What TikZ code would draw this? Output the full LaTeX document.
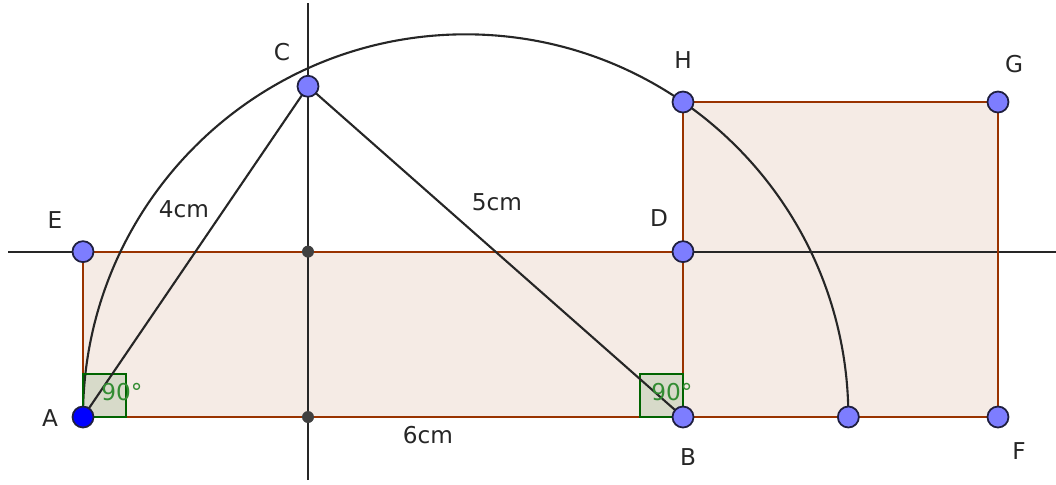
\documentclass[tikz,border=0pt]{standalone}
\usepackage{fontspec}
\setsansfont{DejaVu Sans}
\usetikzlibrary{positioning}
\definecolor{ggbrown}{RGB}{153,51,0}
\definecolor{ggpoint}{RGB}{125,125,255}
\definecolor{ggangle}{RGB}{0,100,0}
\definecolor{ggangletext}{RGB}{50,140,50}

\begin{document}
\begin{tikzpicture}[every node/.style={font=\sffamily\fontsize{6.6}{8}\selectfont,text=black!85},
 poly/.style={fill=ggbrown!10},
 polyedge/.style={draw=ggbrown,line width=0.6pt},
 gline/.style={draw=black!85,line width=0.6pt},
 rightmark/.style={draw=ggangle,line width=0.5pt,fill=ggangle,fill opacity=0.12},
 anglelabel/.style={text=ggangletext},
 freept/.style={circle,draw=ggpoint!25!black,line width=0.5pt,fill=ggpoint,inner sep=0pt,minimum size=2.1mm},
 basept/.style={freept,fill=blue},
 auxpt/.style={circle,fill=black!75,inner sep=0pt,minimum size=1.2mm}]
\useasboundingbox (-0.83,-0.67) rectangle (9.73,4.17);
\pgfmathsetmacro\hC{sqrt(16-2.25*2.25)}
\pgfmathsetmacro\hR{\hC/2}
\pgfmathsetmacro\sQ{sqrt(6*\hR)}
\pgfmathsetmacro\rK{(6+\hR)/2}
\coordinate (A) at (0,0);
\coordinate (B) at (6,0);
\coordinate (C) at (2.25,\hC);
\coordinate (D) at (6,\hR);
\coordinate (E) at (0,\hR);
\coordinate (F) at (6+\sQ,0);
\coordinate (G) at (6+\sQ,\sQ);
\coordinate (H) at (6,\sQ);
\coordinate (P) at (6+\hR,0);
% filled polygons
\fill[poly] (A) rectangle (D);
\fill[poly] (B) rectangle (G);
% auxiliary lines
\coordinate (vtop) at (2.25,4.14);
\coordinate (vbot) at (2.25,-0.63);
\coordinate (hl) at (-0.75,\hR);
\coordinate (hr) at (9.73,\hR);
\draw[gline] (vbot)--(vtop);
\draw[gline] (hl)--(hr);
\draw[polyedge] (A)--(B)--(D)--(E)--cycle;
\draw[polyedge] (B)--(F)--(G)--(H)--cycle;
\draw[gline] (A) arc[start angle=180,end angle=0,radius=\rK];
% right angles
\draw[rightmark] (A) rectangle ++(0.43,0.43);
\draw[rightmark] (B) rectangle ++(-0.43,0.43);
\draw[gline] (A)--(C)--(B);
\node[anglelabel] (aA) at (0.39,0.25) {90°};
\node[anglelabel] (aB) at (5.89,0.25) {90°};
% points
\node[auxpt] (M1) at (2.25,\hR) {};
\node[auxpt] (M2) at (2.25,0) {};
\foreach \p in {B,C,D,E,F,G,H,P}{\node[freept] (pt\p) at (\p) {};}
\node[basept] (ptA) at (A) {};
% labels
\node (lA) at (-0.33,-0.01) {A};
\node (lB) at (6.05,-0.40) {B};
\node (lC) at (1.99,3.65) {C};
\node (lD) at (5.76,1.99) {D};
\node (lE) at (-0.28,1.97) {E};
\node (lF) at (9.36,-0.34) {F};
\node (lG) at (9.31,3.53) {G};
\node (lH) at (6.00,3.57) {H};
\node (lAC) at (1.01,2.08) {4cm};
\node (lBC) at (4.14,2.15) {5cm};
\node (lAB) at (3.45,-0.18) {6cm};
\end{tikzpicture}
\end{document}
